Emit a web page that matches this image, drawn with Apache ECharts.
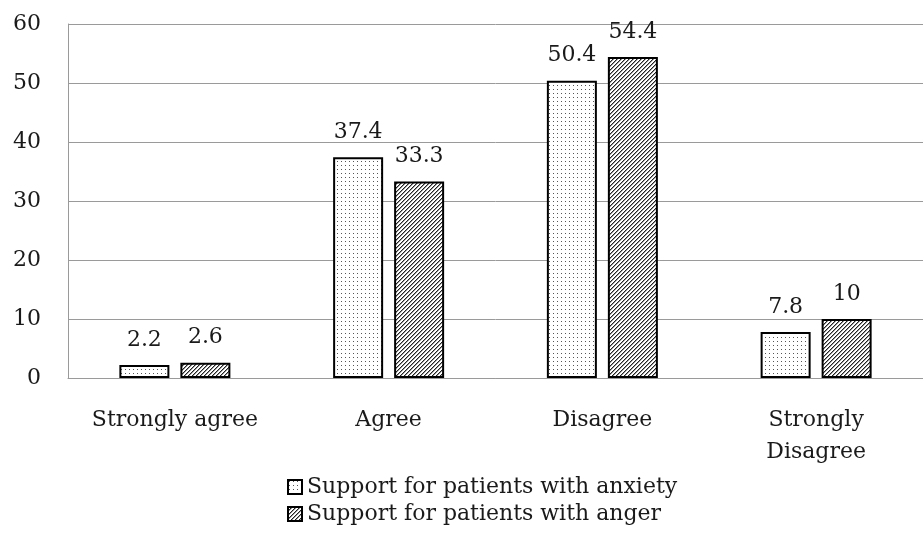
<!DOCTYPE html>
<html>
<head>
<meta charset="utf-8">
<script src="https://cdn.jsdelivr.net/npm/echarts@6/dist/echarts.min.js"></script>
<style>
html,body{margin:0;padding:0;background:#fff;}
#chart{width:923px;height:535px;}
</style>
</head>
<body>
<div id="chart"></div>
<script>
var categories = ['Strongly agree', 'Agree', 'Disagree', 'Strongly\nDisagree'];
var seriesNames = ['Support for patients with anxiety', 'Support for patients with anger'];
var anxietyValues = [2.2, 37.4, 50.4, 7.8];
var angerValues = [2.6, 33.3, 54.4, 10];
var yTicks = [0, 10, 20, 30, 40, 50, 60];

function dotPattern() {
  var c = document.createElement('canvas');
  c.width = 4; c.height = 4;
  var ctx = c.getContext('2d');
  ctx.fillStyle = '#ffffff';
  ctx.fillRect(0, 0, 4, 4);
  ctx.fillStyle = '#555555';
  ctx.fillRect(1, 1, 1, 1);
  return c;
}
function hatchPattern() {
  var s = 4;
  var c = document.createElement('canvas');
  c.width = s; c.height = s;
  var ctx = c.getContext('2d');
  ctx.fillStyle = '#ffffff';
  ctx.fillRect(0, 0, s, s);
  for (var i = 0; i < s; i++) {
    ctx.fillStyle = '#222222';
    ctx.fillRect(i, s - 1 - i, 1, 1);
    ctx.fillStyle = '#999999';
    ctx.fillRect((i + 1) % s, s - 1 - i, 1, 1);
  }
  return c;
}

var FONT = '"DejaVu Serif", "Liberation Serif", serif';
var TXT = '#1a1a1a';

var chart = echarts.init(document.getElementById('chart'), null, {renderer: 'canvas'});
var labelCfg = {
  show: true, position: 'top', distance: 14,
  fontFamily: FONT, fontSize: 22, color: TXT
};
function legendFor(name, top) {
  return {
    orient: 'horizontal',
    left: 287, top: top, padding: 0,
    itemWidth: 14, itemHeight: 14,
    icon: 'rect',
    textStyle: {fontFamily: FONT, fontSize: 22, color: TXT},
    data: [name]
  };
}
chart.setOption({
  animation: false,
  backgroundColor: '#ffffff',
  grid: {left: 68, right: 0, top: 24, bottom: 157, containLabel: false},
  legend: [legendFor(seriesNames[0], 476), legendFor(seriesNames[1], 503)],
  xAxis: {
    type: 'category',
    data: categories,
    axisLine: {show: true, lineStyle: {color: '#9a9a9a', width: 1}},
    axisTick: {show: false},
    axisLabel: {margin: 26, fontFamily: FONT, fontSize: 22, color: TXT, lineHeight: 32, interval: 0}
  },
  yAxis: {
    type: 'value',
    min: yTicks[0], max: yTicks[yTicks.length - 1], interval: 10,
    axisLine: {show: true, lineStyle: {color: '#9a9a9a', width: 1}},
    axisTick: {show: false},
    splitLine: {show: true, lineStyle: {color: '#9a9a9a', width: 1}},
    axisLabel: {margin: 27, fontFamily: FONT, fontSize: 22, color: TXT}
  },
  series: [
    {
      name: seriesNames[0], type: 'bar', data: anxietyValues,
      barWidth: 50, barGap: '22%',
      itemStyle: {color: {image: dotPattern(), repeat: 'repeat'}, borderColor: '#000', borderWidth: 2},
      label: labelCfg
    },
    {
      name: seriesNames[1], type: 'bar', data: angerValues,
      barWidth: 50, barGap: '22%',
      itemStyle: {color: {image: hatchPattern(), repeat: 'repeat'}, borderColor: '#000', borderWidth: 2},
      label: labelCfg
    }
  ]
});
</script>
</body>
</html>
